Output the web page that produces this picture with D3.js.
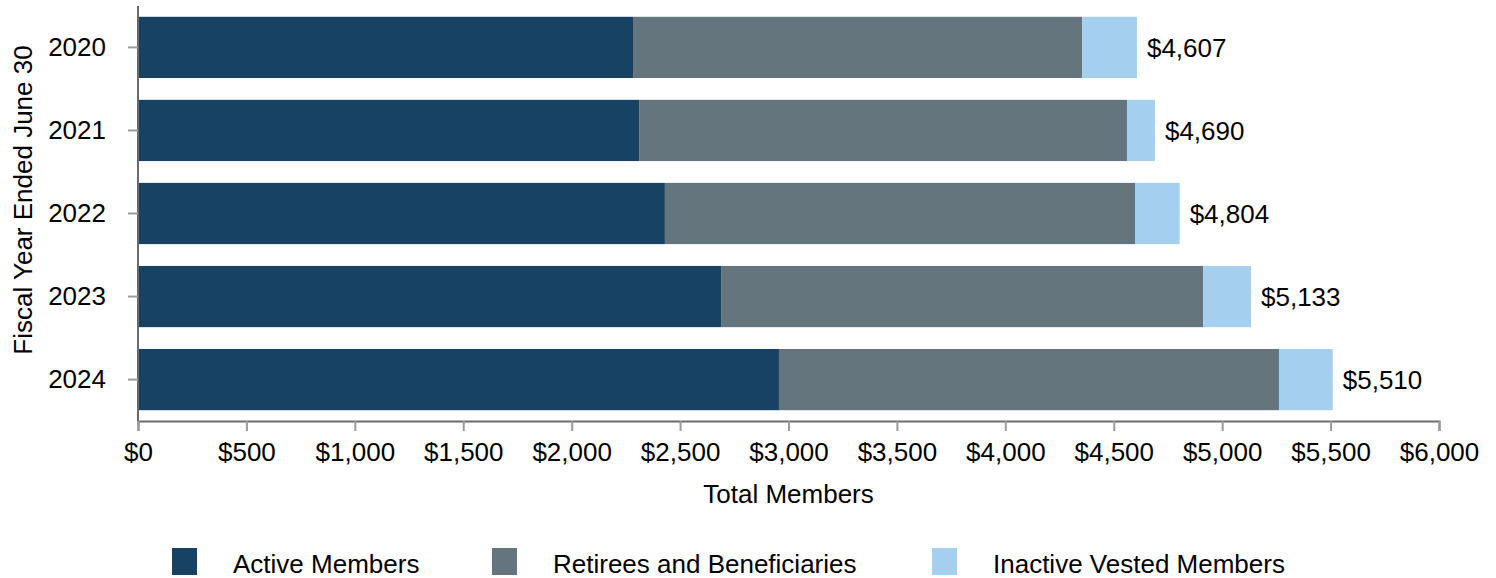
<!DOCTYPE html>
<html>
<head>
<meta charset="utf-8">
<script src="https://cdn.jsdelivr.net/npm/d3@7"></script>
<style>
  body { margin: 0; background: #fff; }
  svg text { font-family: "Liberation Sans", Arial, sans-serif; fill: #000; }
</style>
</head>
<body>
<div id="chart"></div>
<script>
// data (in $ millions)
const years = ['2020', '2021', '2022', '2023', '2024'];
const active = [2283, 2311, 2430, 2689, 2956];
const retirees = [2071, 2250, 2168, 2223, 2306];
const totals = [4607, 4690, 4804, 5133, 5510];
const seriesNames = ['Active Members', 'Retirees and Beneficiaries', 'Inactive Vested Members'];
const seriesColors = ['#174263', '#65757e', '#a5cfee'];
const xTicks = [0, 500, 1000, 1500, 2000, 2500, 3000, 3500, 4000, 4500, 5000, 5500, 6000];

const W = 1496, H = 578;
const margin = { top: 6, right: 57, bottom: 157, left: 138 };
const FS = 26;

// inactive vested = total minus the other two
const rows = years.map((y, i) => ({ year: y, a: active[i], r: retirees[i], v: totals[i] - active[i] - retirees[i], total: totals[i] }));
const stack = d3.stack().keys(['a', 'r', 'v'])(rows);

const svg = d3.select('#chart').append('svg').attr('width', W).attr('height', H);

const x = d3.scaleLinear().domain([0, 6000]).range([margin.left, W - margin.right]);
const y = d3.scaleBand().domain(years)
  .range([margin.top, H - margin.bottom])
  .paddingInner(0.263).paddingOuter(0.13);

// bars
svg.append('g').selectAll('g')
  .data(stack)
  .join('g')
  .attr('fill', (d, i) => seriesColors[i])
  .selectAll('rect')
  .data(d => d)
  .join('rect')
  .attr('x', d => x(d[0]))
  .attr('y', d => y(d.data.year))
  .attr('width', d => x(d[1]) - x(d[0]))
  .attr('height', y.bandwidth());

// total labels
svg.append('g').selectAll('text')
  .data(rows)
  .join('text')
  .attr('x', d => x(d.total) + 10)
  .attr('y', d => y(d.year) + y.bandwidth() / 2)
  .attr('dy', '0.35em')
  .attr('font-size', FS)
  .text(d => '$' + d3.format(',')(d.total));

// x axis
const xAxis = svg.append('g')
  .attr('transform', `translate(0,${H - margin.bottom})`)
  .call(d3.axisBottom(x).tickValues(xTicks).tickSize(10).tickPadding(12)
    .tickFormat(d => '$' + d3.format(',')(d)));
xAxis.select('.domain').attr('stroke', '#6b6b6b').attr('stroke-width', 2);
xAxis.selectAll('.tick line').attr('stroke', '#9a9a9a').attr('stroke-width', 2);
xAxis.selectAll('.tick text').attr('font-size', FS).attr('fill', '#000')
  .attr('font-family', '"Liberation Sans", Arial, sans-serif');

// y axis
const yAxis = svg.append('g')
  .attr('transform', `translate(${margin.left},0)`)
  .call(d3.axisLeft(y).tickSize(10).tickPadding(22));
yAxis.select('.domain').attr('stroke', '#6b6b6b').attr('stroke-width', 2)
  .attr('d', `M0,${margin.top}V${H - margin.bottom}`);
yAxis.selectAll('.tick line').attr('stroke', '#9a9a9a').attr('stroke-width', 2);
yAxis.selectAll('.tick text').attr('font-size', FS).attr('fill', '#000')
  .attr('font-family', '"Liberation Sans", Arial, sans-serif');

// axis titles
svg.append('text')
  .attr('x', (x(0) + x(6000)) / 2)
  .attr('y', 503)
  .attr('text-anchor', 'middle')
  .attr('font-size', FS)
  .text('Total Members');

svg.append('text')
  .attr('transform', 'translate(32,200) rotate(-90)')
  .attr('text-anchor', 'middle')
  .attr('font-size', FS)
  .text('Fiscal Year Ended June 30');

// legend
const legendX = [172, 492, 932];
const lg = svg.append('g').selectAll('g')
  .data(seriesNames)
  .join('g')
  .attr('transform', (d, i) => `translate(${legendX[i]},548)`);
lg.append('rect').attr('width', 25).attr('height', 27)
  .attr('fill', (d, i) => seriesColors[i]);
lg.append('text').attr('x', 61).attr('y', 25)
  .attr('font-size', FS).text(d => d);
</script>
</body>
</html>
